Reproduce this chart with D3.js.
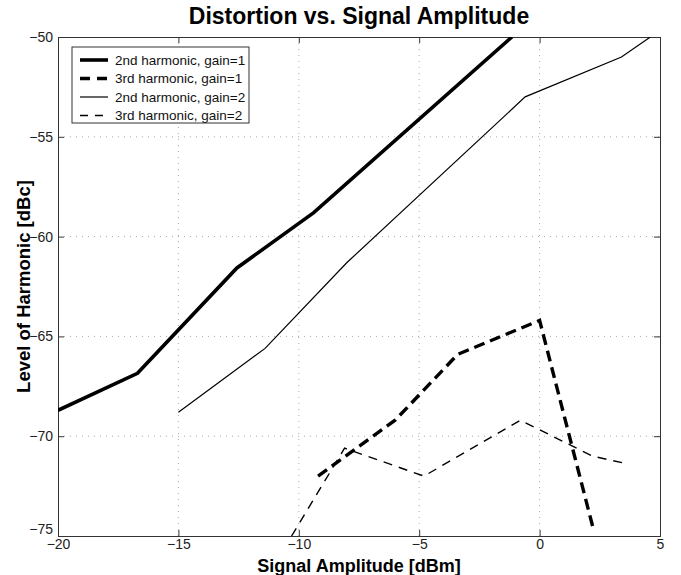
<!DOCTYPE html>
<html><head><meta charset="utf-8">
<script src="https://cdn.jsdelivr.net/npm/d3@7"></script>
<style>body{margin:0;background:#fff}svg{display:block}text{font-family:"Liberation Sans",Arial,Helvetica,sans-serif}</style>
</head><body>
<script>
const xTicks = [-20, -15, -10, -5, 0, 5];
const yTicks = [-75, -70, -65, -60, -55, -50];
const seriesNames = ["2nd harmonic, gain=1", "3rd harmonic, gain=1", "2nd harmonic, gain=2", "3rd harmonic, gain=2"];
const h2g1 = [[-20, -68.7], [-16.7, -66.85], [-12.57, -61.57], [-9.38, -58.8], [-1.15, -50]];
const h3g1 = [[-9.2, -72.0], [-6.0, -69.2], [-3.4, -65.9], [0.0, -64.2], [2.2, -74.5]];
const h2g2 = [[-15.0, -68.8], [-11.4, -65.6], [-8.0, -61.3], [-0.6, -53.0], [3.4, -51.0], [4.6, -50.0]];
const h3g2 = [[-10.3, -75.0], [-8.1, -70.6], [-4.8, -72.0], [-0.8, -69.2], [2.2, -71.0], [3.7, -71.4]];

const W = 681, H = 575;
const m = {l: 58, r: 21, t: 37, b: 39};
const svg = d3.select("body").append("svg").attr("width", W).attr("height", H);
const x = d3.scaleLinear().domain([-20, 5]).range([m.l, W - m.r]);
const y = d3.scaleLinear().domain([-75, -50]).range([H - m.b, m.t]);

svg.append("defs").append("clipPath").attr("id", "clip")
  .append("rect").attr("x", m.l).attr("y", m.t).attr("width", W - m.l - m.r).attr("height", H - m.t - m.b);

// grid
const g = svg.append("g");
g.selectAll(".gx").data(xTicks.slice(1, -1)).join("line")
  .attr("x1", d => x(d)).attr("x2", d => x(d)).attr("y1", m.t).attr("y2", H - m.b)
  .attr("stroke", "#aaa").attr("stroke-width", 1).attr("stroke-dasharray", "1,5");
g.selectAll(".gy").data(yTicks.slice(1, -1)).join("line")
  .attr("y1", d => y(d)).attr("y2", d => y(d)).attr("x1", m.l).attr("x2", W - m.r)
  .attr("stroke", "#aaa").attr("stroke-width", 1).attr("stroke-dasharray", "1,5");

// axes
const fmt = d => d3.format("")(d).replace("-", "\u2212");
const ax = svg.append("g").attr("transform", `translate(0,${H - m.b})`)
  .call(d3.axisBottom(x).tickValues(xTicks).tickSize(-6).tickPadding(3).tickFormat(fmt));
const axT = svg.append("g").attr("transform", `translate(0,${m.t})`)
  .call(d3.axisTop(x).tickValues(xTicks).tickSize(-6).tickFormat(""));
const ay = svg.append("g").attr("transform", `translate(${m.l},0)`)
  .call(d3.axisLeft(y).tickValues(yTicks).tickSize(-6).tickPadding(5).tickFormat(fmt));
const ayR = svg.append("g").attr("transform", `translate(${W - m.r},0)`)
  .call(d3.axisRight(y).tickValues(yTicks).tickSize(-6).tickFormat(""));
[ax, axT, ay, ayR].forEach(a => {
  a.select(".domain").attr("stroke", "#333").attr("stroke-width", 1);
  a.selectAll(".tick line").attr("stroke", "#333");
  a.selectAll("text").attr("font-size", 14).attr("fill", "#222").style("font-family", '"Liberation Sans",Arial,sans-serif');
});
ay.selectAll(".tick text").filter(d => d === -75).attr("dy", "-0.15em");

// lines
const line = d3.line().x(d => x(d[0])).y(d => y(d[1]));
const plot = svg.append("g").attr("clip-path", "url(#clip)");
const styles = [
  {data: h2g1, w: 3.6, dash: null},
  {data: h3g1, w: 3.4, dash: "11,6"},
  {data: h2g2, w: 1.2, dash: null},
  {data: h3g2, w: 1.4, dash: "9,7"}
];
styles.forEach(s => {
  plot.append("path").datum(s.data).attr("d", line).attr("fill", "none")
    .attr("stroke", "#000").attr("stroke-width", s.w)
    .attr("stroke-dasharray", s.dash).attr("stroke-linejoin", "miter");
});

// legend
const lg = svg.append("g");
lg.append("rect").attr("x", 72).attr("y", 47).attr("width", 177).attr("height", 76)
  .attr("fill", "#fff").attr("stroke", "#333").attr("stroke-width", 1);
seriesNames.forEach((n, i) => {
  const yy = 60 + i * 18.5;
  lg.append("line").attr("x1", 80).attr("x2", 108).attr("y1", yy).attr("y2", yy)
    .attr("stroke", "#000").attr("stroke-width", styles[i].w)
    .attr("stroke-dasharray", styles[i].dash ? (i === 1 ? "10,7" : "8,7") : null);
  lg.append("text").attr("x", 115).attr("y", yy + 4.5).attr("font-size", 13.5).attr("fill", "#111").text(n);
});

// titles
svg.append("text").attr("x", (m.l + W - m.r) / 2).attr("y", 24).attr("text-anchor", "middle")
  .attr("font-size", 23).attr("font-weight", "bold").text("Distortion vs. Signal Amplitude");
svg.append("text").attr("x", (m.l + W - m.r) / 2).attr("y", 572).attr("text-anchor", "middle")
  .attr("font-size", 18).attr("font-weight", "bold").text("Signal Amplitude [dBm]");
svg.append("text").attr("transform", `translate(30,${(m.t + H - m.b) / 2}) rotate(-90)`).attr("text-anchor", "middle")
  .attr("font-size", 18.5).attr("font-weight", "bold").text("Level of Harmonic [dBc]");
</script>
</body></html>
